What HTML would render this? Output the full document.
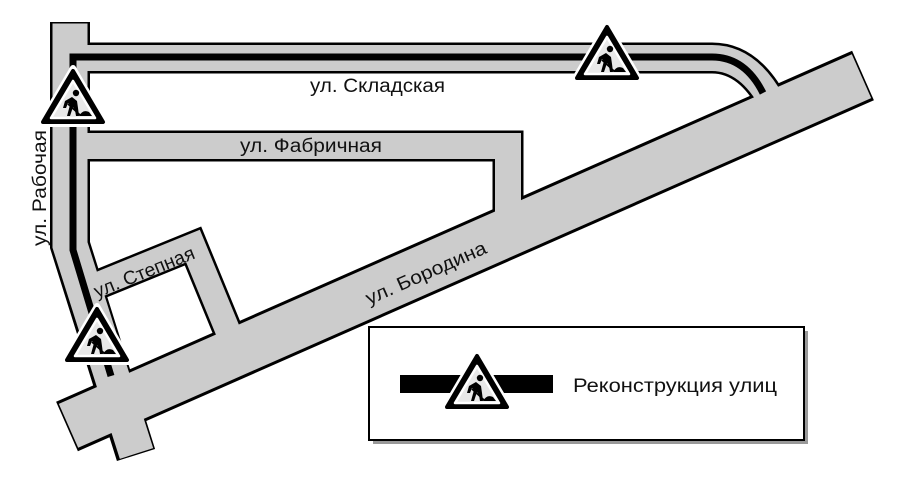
<!DOCTYPE html>
<html><head><meta charset="utf-8"><style>
html,body{margin:0;padding:0;background:#fff}
svg{display:block}
text{font-family:"Liberation Sans",sans-serif;fill:#111}
</style></head><body>
<svg width="906" height="498" viewBox="0 0 906 498" xmlns="http://www.w3.org/2000/svg">
<defs>
<g id="sign">
  <polygon points="0,0 33,56 -33,56" fill="#fff" stroke="#fff" stroke-width="6" stroke-linejoin="round"/>
  <polygon points="0,3 30,54 -30,54" fill="#000" stroke="#000" stroke-width="4" stroke-linejoin="round"/>
  <polygon points="0,13 22,50 -22,50" fill="#e8e8e8" stroke="#fff" stroke-width="2.5" stroke-linejoin="round"/>
  <circle cx="3" cy="25" r="3.2" fill="#000"/>
  <path d="M-1,29 L-8,33 L-10,40 L-7,40 L-5,35 L-3,37 L-6,48 L-3,48 L0,39 L2,42 L3,48 L6,48 L5,40 L4,33 Z" fill="#000"/>
  <line x1="-5" y1="36" x2="7" y2="47" stroke="#000" stroke-width="1.6"/>
  <path d="M6,48 Q10,41 16,44 L19,48 Z" fill="#000"/>
</g>
</defs>
<g fill="none" stroke-linejoin="miter">
  <g stroke="#000" stroke-width="40">
    <path d="M70,22 V245 L136,455"/>
  </g>
  <g stroke="#000" stroke-width="31">
    <path d="M70,58 H712 Q748,58 772,102"/>
    <path d="M70,146 H508 V232"/>
  </g>
  <g stroke="#000" stroke-width="30">
    <path d="M90,288 L193,246 L230,336"/>
  </g>
  <path d="M67,426.5 L863,75.5" stroke="#000" stroke-width="54"/>
  <g stroke="#ccc">
    <path d="M70,23.5 V245 L136.5,453.5" stroke-width="35"/>
    <path d="M72,58 H712 Q748,58 772,102" stroke-width="26"/>
    <path d="M72,146 H508 V232" stroke-width="26"/>
    <path d="M90,288 L193,246 L230,336" stroke-width="25"/>
    <path d="M68.5,425.8 L861.5,76.2" stroke-width="48"/>
  </g>
</g>
<path d="M111,376 L73,250 V57 H712 Q745,57 763,93" fill="none" stroke="#000" stroke-width="7" stroke-linejoin="miter"/>
<use href="#sign" x="73" y="68"/>
<use href="#sign" x="607" y="24"/>
<use href="#sign" x="97" y="306"/>
<text x="310" y="92" font-size="19" textLength="135" lengthAdjust="spacingAndGlyphs">ул. Складская</text>
<text x="240" y="152" font-size="19" textLength="142" lengthAdjust="spacingAndGlyphs">ул. Фабричная</text>
<text transform="translate(46,246) rotate(-90)" font-size="19" textLength="116" lengthAdjust="spacingAndGlyphs">ул. Рабочая</text>
<text transform="translate(97,298) rotate(-22)" font-size="19" textLength="107" lengthAdjust="spacingAndGlyphs">ул. Степная</text>
<text transform="translate(369,305) rotate(-23.8)" font-size="19" textLength="130" lengthAdjust="spacingAndGlyphs">ул. Бородина</text>
<rect x="373" y="331" width="435" height="113" fill="#999"/>
<rect x="369" y="327" width="435" height="113" fill="#fff" stroke="#000" stroke-width="2"/>
<rect x="400" y="375" width="153" height="18" fill="#000"/>
<use href="#sign" x="477" y="353"/>
<text x="573" y="392" font-size="19" textLength="204" lengthAdjust="spacingAndGlyphs">Реконструкция улиц</text>
</svg>
</body></html>
